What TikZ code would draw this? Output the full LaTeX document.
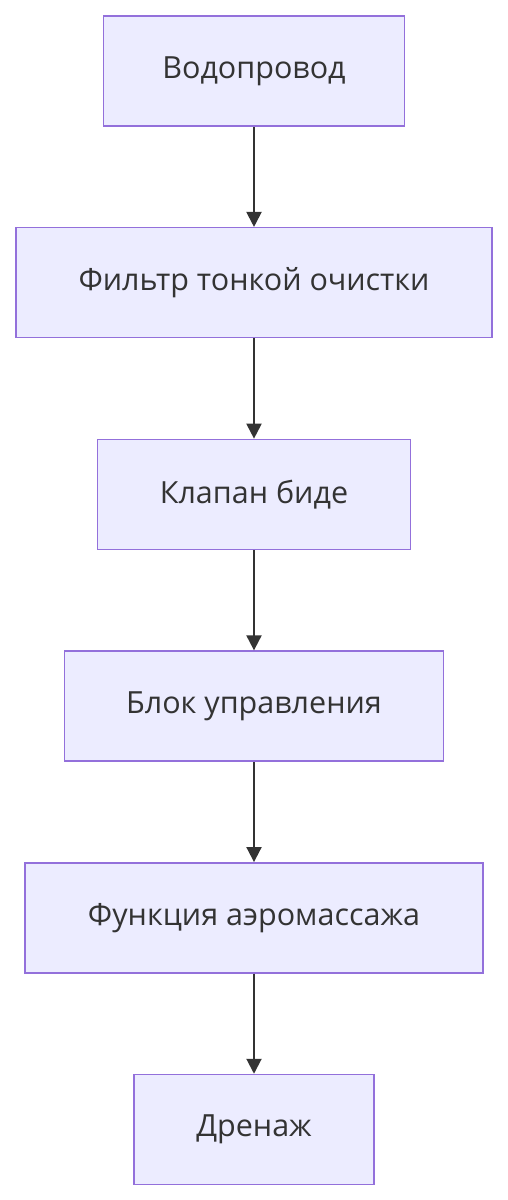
\documentclass[tikz,border=0pt]{standalone}
\usepackage{fontspec}
\setmainfont{Open Sans}
\usetikzlibrary{positioning,arrows.meta}
\definecolor{boxfill}{HTML}{ECECFF}
\definecolor{boxline}{HTML}{9370DB}
\definecolor{ink}{HTML}{333333}
\tikzset{
  bloc/.style={draw=boxline, fill=boxfill, line width=1.5pt, minimum height=110pt,
    text=ink, font=\fontsize{30.5}{34}\selectfont, inner sep=0pt},
  fleche/.style={draw=ink, line width=2pt, -{Triangle[width=15pt,length=15pt]}}
}
\begin{document}
\begin{tikzpicture}[x=1pt, y=1pt, node distance=100.2pt]
\useasboundingbox (0,0) rectangle (508,-1200);
% Blocs
\node[bloc, minimum width=301pt] (vodo) at (254,-71) {Водопровод};
\node[bloc, minimum width=476pt, below=of vodo] (filtr) {Фильтр тонкой очистки};
\node[bloc, minimum width=313pt, below=of filtr] (klapan) {Клапан биде};
\node[bloc, minimum width=379pt, below=of klapan] (blok) {Блок управления};
\node[bloc, minimum width=458pt, below=of blok] (aero) {Функция аэромассажа};
\node[bloc, minimum width=240pt, below=of aero] (drenazh) {Дренаж};
% Liaisons
\draw[fleche] (vodo) -- (filtr);
\draw[fleche] (filtr) -- (klapan);
\draw[fleche] (klapan) -- (blok);
\draw[fleche] (blok) -- (aero);
\draw[fleche] (aero) -- (drenazh);
\end{tikzpicture}
\end{document}
